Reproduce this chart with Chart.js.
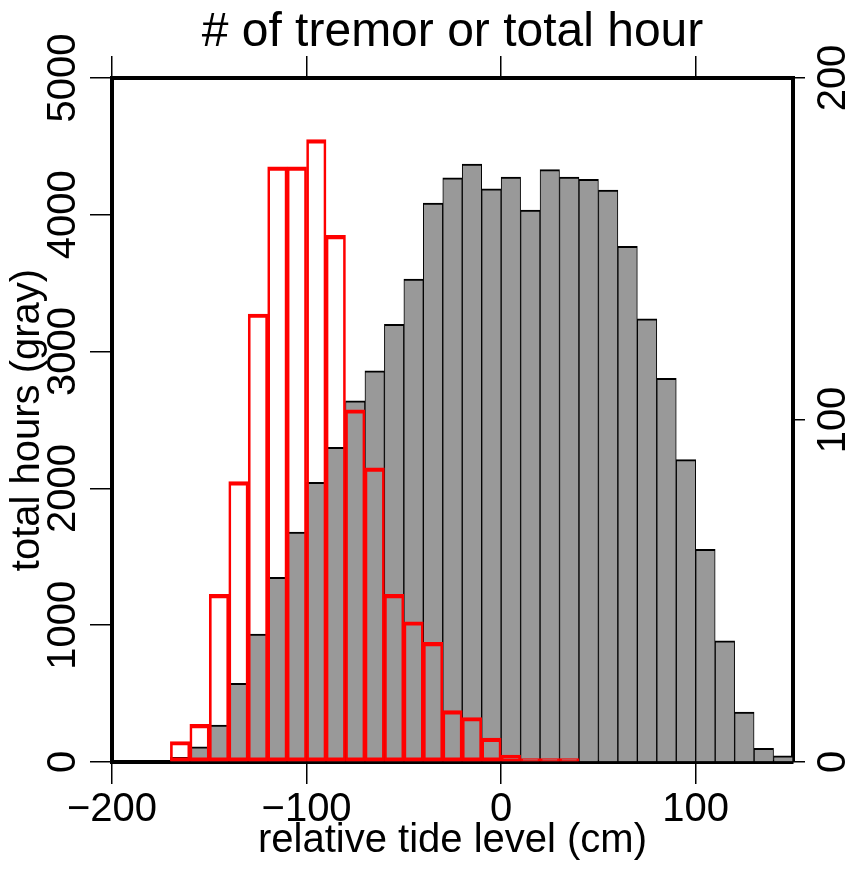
<!DOCTYPE html>
<html>
<head>
<meta charset="utf-8">
<script src="https://cdn.jsdelivr.net/npm/chart.js@4.4.1/dist/chart.umd.min.js"></script>
<style>
  html, body { margin: 0; padding: 0; background: #fff; }
  #wrap { width: 859px; height: 869px; }
</style>
</head>
<body>
<div id="wrap"><canvas id="tideChart" width="859" height="869"></canvas></div>
<script>
// --- DATA (10 cm bins, value = bin centre) ---
const binCenters = [-165, -155, -145, -135, -125, -115, -105, -95, -85, -75, -65, -55,
  -45, -35, -25, -15, -5, 5, 15, 25, 35, 45, 55, 65, 75, 85, 95, 105, 115, 125, 135, 145];
const totalHours = [35, 110, 270, 575, 935, 1350, 1680, 2045, 2300, 2640, 2860, 3200,
  3530, 4085, 4270, 4370, 4190, 4275, 4035, 4330, 4275, 4260, 4180, 3770, 3240, 2805,
  2210, 1555, 885, 365, 100, 45];
const tremorCounts = [6, 11, 49, 82, 131, 174, 174, 182, 154, 103, 86, 49, 41, 35, 15,
  13, 7, 2, 1, 1, 1];
const xTicks = [-200, -100, 0, 100];
const hourTicks = [0, 1000, 2000, 3000, 4000, 5000];
const tremorTicks = [0, 100, 200];

const FONT = "'Liberation Sans', Arial, sans-serif";

const grayPoints = binCenters.map((x, i) => ({ x: x, y: totalHours[i] }));
const redPoints = tremorCounts.map((v, i) => ({ x: binCenters[i], y: v }));

// y tick labels are rotated (read bottom-to-top), drawn here from the scales
const rotatedTicks = {
  id: 'rotatedTicks',
  afterDraw(chart) {
    const ctx = chart.ctx;
    ctx.save();
    ctx.font = '40px ' + FONT;
    ctx.fillStyle = '#000';
    ctx.textAlign = 'center';
    ctx.textBaseline = 'middle';
    [['y', 64], ['y1', 834]].forEach(([id, x]) => {
      const s = chart.scales[id];
      s.ticks.forEach(t => {
        ctx.save();
        ctx.translate(x, s.getPixelForValue(t.value));
        ctx.rotate(-Math.PI / 2);
        ctx.fillText(String(t.value), 0, 0);
        ctx.restore();
      });
    });
    ctx.restore();
  }
};

const axisGrid = { display: true, offset: false, drawOnChartArea: false, drawTicks: true, tickLength: 22, color: '#000', lineWidth: 1.5 };
const axisBorder = { display: true, color: '#000', width: 4 };

new Chart(document.getElementById('tideChart'), {
  type: 'bar',
  data: {
    datasets: [
      {
        label: '# of tremor',
        data: redPoints,
        xAxisID: 'x',
        yAxisID: 'y1',
        backgroundColor: 'rgba(0,0,0,0)',
        borderColor: '#ff0000',
        borderWidth: { top: 3.5, bottom: 3.5, left: 2, right: 2 },
        borderSkipped: false,
        grouped: false,
        barPercentage: 1,
        categoryPercentage: 1
      },
      {
        label: 'total hours',
        data: grayPoints,
        xAxisID: 'x',
        yAxisID: 'y',
        backgroundColor: '#999999',
        borderColor: '#000',
        borderWidth: { top: 2, bottom: 0, left: 1, right: 1 },
        borderSkipped: false,
        grouped: false,
        barPercentage: 1,
        categoryPercentage: 1
      }
    ]
  },
  options: {
    responsive: false,
    animation: false,
    layout: { padding: 0 },
    plugins: { legend: { display: false }, tooltip: { enabled: false } },
    scales: {
      x: {
        type: 'linear',
        position: 'bottom',
        offset: false,
        min: -200,
        max: 150,
        afterBuildTicks: s => { s.ticks = xTicks.map(v => ({ value: v })); },
        afterFit: s => { s.height = 107; },
        ticks: {
          color: '#000',
          font: { family: FONT, size: 40 },
          padding: 2,
          maxRotation: 0,
          callback: v => (v < 0 ? '\u2212' + Math.abs(v) : String(v))
        },
        grid: axisGrid,
        border: axisBorder,
        title: {
          display: true,
          text: 'relative tide level (cm)',
          color: '#000',
          font: { family: FONT, size: 40 },
          padding: { top: 0, bottom: 4 }
        }
      },
      x2: {
        type: 'linear',
        position: 'top',
        offset: false,
        min: -200,
        max: 150,
        afterBuildTicks: s => { s.ticks = xTicks.map(v => ({ value: v })); },
        afterFit: s => { s.height = 78; },
        ticks: { display: false },
        grid: axisGrid,
        border: axisBorder,
        title: {
          display: true,
          text: '# of tremor or total hour',
          color: '#000',
          font: { family: FONT, size: 48 },
          padding: { top: 4, bottom: 0 }
        }
      },
      y: {
        type: 'linear',
        position: 'left',
        min: 0,
        max: 5000,
        afterBuildTicks: s => { s.ticks = hourTicks.map(v => ({ value: v })); },
        afterFit: s => { s.width = 112; },
        ticks: { display: false },
        grid: axisGrid,
        border: axisBorder,
        title: {
          display: true,
          text: 'total hours (gray)',
          color: '#000',
          font: { family: FONT, size: 40 },
          padding: { top: 4, bottom: 0 }
        }
      },
      y1: {
        type: 'linear',
        position: 'right',
        min: 0,
        max: 200,
        afterBuildTicks: s => { s.ticks = tremorTicks.map(v => ({ value: v })); },
        afterFit: s => { s.width = 66; },
        ticks: { display: false },
        grid: Object.assign({}, axisGrid, { tickLength: 12 }),
        border: axisBorder
      }
    }
  },
  plugins: [rotatedTicks]
});
</script>
</body>
</html>
